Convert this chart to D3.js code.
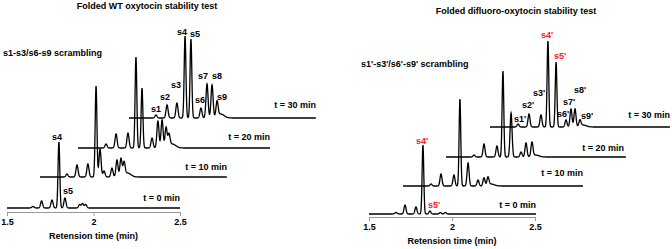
<!DOCTYPE html>
<html lang="en">
<head>
<meta charset="UTF-8"/>
<title>Oxytocin stability test</title>
<script src="https://d3js.org/d3.v7.min.js"></script>
<style>
    body { margin: 0; background: #fff; }
    text { font-family: "Liberation Sans", Arial, sans-serif; font-weight: bold; font-size: 9px; }
</style>
</head>
<body>
<script>
    var w = 672;
    var h = 249;

    var timeLabels = ["t = 0 min", "t = 10 min", "t = 20 min", "t = 30 min"];
    var axisTicks = [1.5, 2, 2.5];

    // peaks: [retention time, height, width]
    var wtPeaks = [
        [[1.65, 1.5, 0.007], [1.70, 7, 0.006], [1.76, 8, 0.006], [1.80, 66, 0.005], [1.835, 10, 0.006],
         [1.92, 3.5, 0.006], [1.937, 4.5, 0.006], [1.955, 3.5, 0.006]],
        [[1.656, 3, 0.006], [1.714, 12, 0.006], [1.777, 13, 0.006], [1.824, 91, 0.005], [1.847, 28, 0.006],
         [1.870, 6, 0.006], [1.916, 9, 0.006], [1.945, 17, 0.006], [1.968, 18, 0.006], [1.986, 13, 0.006],
         [2.005, 4, 0.02]],
        [[1.662, 4, 0.006], [1.720, 14, 0.006], [1.789, 15, 0.006], [1.835, 91, 0.005], [1.870, 60, 0.005],
         [1.928, 10, 0.006], [1.962, 27, 0.006], [1.986, 28, 0.006], [2.009, 20, 0.006], [2.026, 12, 0.006],
         [2.045, 4, 0.02]],
        [[1.656, 3, 0.006], [1.720, 13, 0.006], [1.777, 15, 0.006], [1.824, 82, 0.005], [1.858, 79, 0.005],
         [1.916, 10, 0.006], [1.951, 34, 0.006], [1.980, 33, 0.006], [2.009, 15, 0.006], [2.03, 4, 0.02]]
    ];
    var wtEnds = [2.5, 2.58, 2.61, 2.58];
    var wtNames = ["s1", "s2", "s3", "s4", "s5", "s6", "s7", "s8", "s9"];

    var dfPeaks = [
        [[1.663, 1.5, 0.007], [1.717, 9, 0.006], [1.783, 7, 0.006], [1.825, 69, 0.005], [1.867, 3, 0.006],
         [1.93, 1.5, 0.006], [1.96, 1.5, 0.006]],
        [[1.669, 2, 0.006], [1.729, 12, 0.006], [1.807, 11, 0.006], [1.843, 87, 0.005], [1.892, 23, 0.006],
         [1.952, 6, 0.006], [1.988, 8, 0.006], [2.012, 8, 0.006], [2.03, 2, 0.02]],
        [[1.669, 2, 0.006], [1.729, 13, 0.006], [1.807, 11, 0.006], [1.843, 86, 0.005], [1.892, 44, 0.006],
         [1.952, 5, 0.006], [1.982, 14, 0.006], [2.018, 14, 0.006], [2.04, 2, 0.02]],
        [[1.669, 3, 0.006], [1.735, 13, 0.006], [1.807, 12, 0.006], [1.849, 86, 0.005], [1.898, 65, 0.005],
         [1.958, 7, 0.006], [1.988, 18, 0.006], [2.012, 18, 0.006], [2.042, 6, 0.006], [2.06, 2, 0.02]]
    ];
    var dfEnds = [2.506, 2.584, 2.584, 2.584];
    var dfNames = ["s1'", "s2'", "s3'", "s4'", "s5'", "s6'", "s7'", "s8'", "s9'"];

    var svg = d3.select("body")
        .append("svg")
        .attr("width", w)
        .attr("height", h);

    var yScale = d3.scaleLinear().domain([0, 100]).range([0, 100]);

    function signal(peaks, t) {
        var s = 0;
        peaks.forEach(function(p) {
            var z = (t - p[0]) / p[2];
            s += p[1] * Math.exp(-0.5 * z * z);
        });
        return s;
    }

    function drawPanel(cfg) {
        var g = svg.append("g");
        var xScale = d3.scaleLinear().domain([1.5, 2.5]).range([cfg.x0, cfg.x1]);

        cfg.peaks.forEach(function(peaks, i) {
            var off = cfg.offsets[i];
            var pts = d3.range(1.5, cfg.ends[i] + 0.0005, 0.001);
            var line = d3.line()
                .x(function(t) { return xScale(t) + off[0]; })
                .y(function(t) { return cfg.base + off[1] - yScale(signal(peaks, t)); });
            g.append("path")
                .attr("d", line(pts))
                .attr("fill", "none")
                .attr("stroke", "#000")
                .attr("stroke-width", 1.3);

            g.append("text")
                .attr("x", cfg.timePos[i][0])
                .attr("y", cfg.timePos[i][1])
                .attr("text-anchor", "end")
                .text(timeLabels[i]);
        });

        var xAxis = d3.axisBottom(xScale)
            .tickValues(axisTicks)
            .tickFormat(function(d) { return d; })
            .tickSize(4)
            .tickSizeOuter(0);
        var ax = g.append("g")
            .attr("transform", "translate(0," + cfg.axisY + ")")
            .call(xAxis);
        ax.select(".domain").attr("stroke", "#999");
        ax.selectAll(".tick line").attr("stroke", "#999");
        ax.selectAll("text")
            .attr("font-family", "Liberation Sans, Arial, sans-serif")
            .attr("font-weight", "bold")
            .attr("font-size", "9px")
            .attr("fill", "#000");

        g.append("text")
            .attr("x", (cfg.x0 + cfg.x1) / 2)
            .attr("y", cfg.axisY + 27)
            .attr("text-anchor", "middle")
            .text("Retension time (min)");

        g.append("text")
            .attr("x", cfg.titleX)
            .attr("y", cfg.titleY)
            .attr("text-anchor", "middle")
            .text(cfg.title);

        g.append("text")
            .attr("x", cfg.scrX)
            .attr("y", cfg.scrY)
            .text(cfg.scr);

        // labels on the t = 30 min trace
        cfg.names.forEach(function(n, i) {
            g.append("text")
                .attr("x", cfg.namePos[i][0])
                .attr("y", cfg.namePos[i][1])
                .attr("text-anchor", "middle")
                .attr("fill", cfg.red.indexOf(i) >= 0 ? "#ee1c24" : "#000")
                .text(n);
        });
        // s4 / s5 on the t = 0 min trace
        g.append("text")
            .attr("x", cfg.s4Pos[0]).attr("y", cfg.s4Pos[1])
            .attr("text-anchor", "middle")
            .attr("fill", cfg.red.length ? "#ee1c24" : "#000")
            .text(cfg.names[3]);
        g.append("text")
            .attr("x", cfg.s5Pos[0]).attr("y", cfg.s5Pos[1])
            .attr("text-anchor", "middle")
            .attr("fill", cfg.red.length ? "#ee1c24" : "#000")
            .text(cfg.names[4]);
    }

    drawPanel({
        x0: 7, x1: 180, base: 208, axisY: 212,
        offsets: [[0, 0], [33, -31], [71, -60], [122, -90]],
        peaks: wtPeaks, ends: wtEnds, names: wtNames, red: [],
        timePos: [[180, 201], [227, 170], [270, 140], [316, 108]],
        title: "Folded WT oxytocin stability test", titleX: 147, titleY: 9,
        scr: "s1-s3/s6-s9 scrambling", scrX: 3, scrY: 56,
        namePos: [[156, 112], [165, 100], [176, 88], [182, 35], [195, 37],
                  [200, 103], [203, 79], [217, 79], [222, 100]],
        s4Pos: [57, 140], s5Pos: [68, 194]
    });

    drawPanel({
        x0: 369, x1: 535, base: 214, axisY: 217,
        offsets: [[0, 0], [34, -28], [77, -57], [121, -87]],
        peaks: dfPeaks, ends: dfEnds, names: dfNames, red: [3, 4],
        timePos: [[536, 208], [583, 176], [624, 151], [670, 118]],
        title: "Folded difluoro-oxytocin stability test", titleX: 516, titleY: 14,
        scr: "s1'-s3'/s6'-s9' scrambling", scrX: 361, scrY: 67,
        namePos: [[520, 122], [528, 108], [539, 96], [547, 38], [560, 59],
                  [563, 117], [569, 105], [580, 93], [587, 119]],
        s4Pos: [422, 144], s5Pos: [434, 208]
    });
</script>
</body>
</html>
